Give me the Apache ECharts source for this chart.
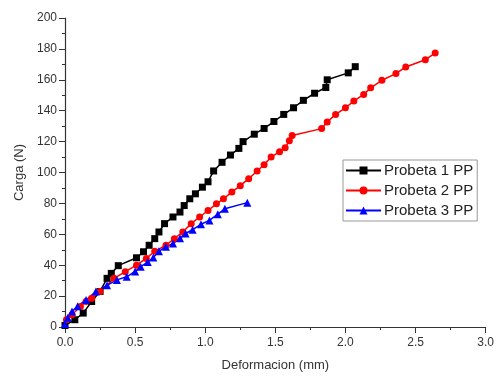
<!DOCTYPE html>
<html>
<head>
<meta charset="utf-8">
<script src="https://cdn.jsdelivr.net/npm/echarts@6/dist/echarts.min.js"></script>
<style>
  html, body { margin: 0; padding: 0; background: #fff; }
  #chart { width: 497px; height: 377px; }
</style>
</head>
<body>
<div id="chart"></div>
<script>
// Probeta 1 PP (black squares)
const defo1 = [0, 0.07, 0.13, 0.19, 0.25, 0.30, 0.33, 0.38, 0.51, 0.56, 0.60, 0.64, 0.67, 0.71, 0.77, 0.82, 0.85, 0.89, 0.93, 0.98, 1.02, 1.06, 1.12, 1.18, 1.24, 1.27, 1.35, 1.42, 1.49, 1.56, 1.63, 1.70, 1.78, 1.86, 1.87, 2.02, 2.07]
const carga1 = [1, 4.7, 9, 16.5, 23, 31.5, 34.7, 39.7, 44.8, 48.7, 52.9, 57.2, 61.5, 66.9, 71.2, 74.4, 78.6, 83, 86.2, 90.5, 94, 101, 106.6, 111.3, 115.6, 120, 124.8, 128.5, 133, 137.6, 141.9, 146.7, 151.3, 155, 160, 164.5, 168.5]

// Probeta 2 PP (red circles)
const defo2 = [0.01, 0.05, 0.11, 0.15, 0.19, 0.25, 0.35, 0.43, 0.51, 0.58, 0.64, 0.72, 0.78, 0.84, 0.90, 0.96, 1.02, 1.08, 1.13, 1.19, 1.25, 1.31, 1.37, 1.42, 1.47, 1.53, 1.57, 1.60, 1.62, 1.83, 1.87, 1.93, 2.00, 2.06, 2.13, 2.18, 2.26, 2.36, 2.43, 2.57, 2.64]
const carga2 = [4.7, 7.9, 13.3, 16.5, 18.6, 23, 31.5, 35.8, 40, 44.4, 49, 52.9, 57.2, 61.5, 66.9, 71.2, 75.4, 79.7, 83, 87.3, 91.5, 96, 101, 105, 110, 113.5, 116, 120.5, 124, 128.4, 132.7, 137.6, 141.9, 146.2, 150.5, 154.8, 159.7, 164, 168.3, 173, 177.3]

// Probeta 3 PP (blue triangles)
const defo3 = [0, 0.02, 0.05, 0.09, 0.15, 0.22, 0.30, 0.37, 0.44, 0.50, 0.54, 0.59, 0.63, 0.67, 0.72, 0.77, 0.82, 0.86, 0.91, 0.97, 1.03, 1.09, 1.14, 1.30]
const carga3 = [2, 6, 10, 13.5, 17.5, 23, 27, 30.5, 32.5, 36, 39, 42, 45, 49, 52, 54, 57.5, 60.5, 63, 66.5, 69, 73, 76.5, 80.5]

const seriesNames = ['Probeta 1 PP', 'Probeta 2 PP', 'Probeta 3 PP']
const seriesColors = ['#000000', '#ff0000', '#0000ff']
const seriesSymbols = ['rect', 'circle', 'triangle']

const xTicks = { min: 0, max: 3, interval: 0.5 }
const yTicks = { min: 0, max: 200, interval: 20 }

const FONT = '"Liberation Sans", Arial, sans-serif'

function pairs(xs, ys) {
  return xs.map((x, i) => [x, ys[i]])
}

const allData = [pairs(defo1, carga1), pairs(defo2, carga2), pairs(defo3, carga3)]

const chart = echarts.init(document.getElementById('chart'), null, { renderer: 'canvas' })

const axisCommon = {
  axisLine: { show: true, onZero: false, lineStyle: { color: '#333', width: 1.2 } },
  axisTick: { show: true, inside: false, length: 6, lineStyle: { color: '#333' } },
  minorTick: { show: true, splitNumber: 2, length: 3, lineStyle: { color: '#333' } },
  splitLine: { show: false },
  axisLabel: { color: '#333', fontSize: 12, fontFamily: FONT },
  nameTextStyle: { color: '#333', fontSize: 13, fontFamily: FONT },
}

chart.setOption({
  animation: false,
  backgroundColor: '#fff',
  grid: { left: 65, right: 9, top: 18, bottom: 48 },
  legend: {
    data: seriesNames,
    orient: 'vertical',
    left: 343,
    top: 160,
    itemWidth: 35,
    itemHeight: 10,
    itemGap: 5,
    padding: [3, 4, 3, 2],
    borderColor: '#999',
    borderWidth: 1,
    textStyle: { color: '#222', fontSize: 15, fontFamily: FONT, padding: [0, 0, 0, -2] },
  },
  xAxis: {
    type: 'value',
    min: xTicks.min,
    max: xTicks.max,
    interval: xTicks.interval,
    name: 'Deformacion (mm)',
    nameLocation: 'middle',
    nameGap: 32,
    ...axisCommon,
    axisLabel: { ...axisCommon.axisLabel, margin: 10, formatter: v => v.toFixed(1) },
  },
  yAxis: {
    type: 'value',
    min: yTicks.min,
    max: yTicks.max,
    interval: yTicks.interval,
    name: 'Carga (N)',
    nameLocation: 'middle',
    nameGap: 36,
    ...axisCommon,
  },
  series: allData.map((d, i) => ({
    type: 'line',
    name: seriesNames[i],
    data: d,
    symbol: seriesSymbols[i],
    symbolSize: i === 2 ? 8 : 7,
    showAllSymbol: true,
    color: seriesColors[i],
    lineStyle: { color: seriesColors[i], width: 1.5 },
    itemStyle: { color: seriesColors[i] },
  })),
})
</script>
</body>
</html>
